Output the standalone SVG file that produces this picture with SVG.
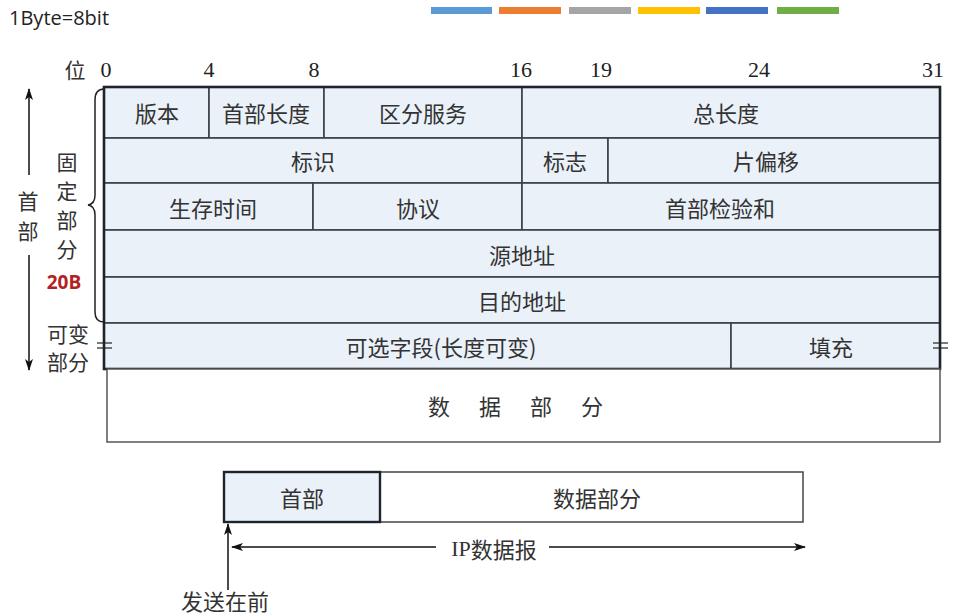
<svg xmlns="http://www.w3.org/2000/svg" width="961" height="616" viewBox="0 0 961 616">
<defs>
<style>
.cjk{font-family:"Noto Sans CJK SC","Noto Sans",sans-serif;font-size:22px;fill:#333;text-anchor:middle;dominant-baseline:central}
.side{font-size:21px}
.num{font-family:"Liberation Serif",serif;font-size:22px;fill:#222;text-anchor:middle}
.cell{fill:#EAF1F9;stroke:#3a4148;stroke-width:1.6}
.ln{stroke:#222;stroke-width:1.5;fill:none}
</style>
<marker id="ah" viewBox="0 0 12 8" refX="11" refY="4" markerWidth="12" markerHeight="8" markerUnits="userSpaceOnUse" orient="auto"><path d="M0,0 L12,4 L0,8 L3,4 Z" fill="#111"/></marker>
</defs>
<rect width="961" height="616" fill="#fff"/>
<text x="9" y="25" font-family="Open Sans,sans-serif" font-size="20" fill="#222">1Byte=8bit</text>
<g id="colorbar">
<rect x="431" y="7" width="61" height="7" fill="#5B9BD5"/>
<rect x="499" y="7" width="62" height="7" fill="#ED7D31"/>
<rect x="569" y="7" width="62" height="7" fill="#A5A5A5"/>
<rect x="638" y="7" width="62" height="7" fill="#FFC000"/>
<rect x="706" y="7" width="62" height="7" fill="#4472C4"/>
<rect x="777" y="7" width="62" height="7" fill="#70AD47"/>
</g>
<g id="bits">
<text class="cjk" x="75" y="69" style="font-size:21px">位</text>
<text class="num" x="106" y="77">0</text>
<text class="num" x="209" y="77">4</text>
<text class="num" x="314" y="77">8</text>
<text class="num" x="521" y="77">16</text>
<text class="num" x="601" y="77">19</text>
<text class="num" x="759" y="77">24</text>
<text class="num" x="933" y="77">31</text>
</g>
<g id="row1">
<rect class="cell" x="104" y="87" width="105" height="51"/><text class="cjk" x="157" y="112">版本</text>
<rect class="cell" x="209" y="87" width="115" height="51"/><text class="cjk" x="266" y="112">首部长度</text>
<rect class="cell" x="324" y="87" width="198" height="51"/><text class="cjk" x="423" y="112">区分服务</text>
<rect class="cell" x="522" y="87" width="418" height="51"/><text class="cjk" x="726" y="112">总长度</text>
</g>
<g id="row2">
<rect class="cell" x="104" y="138" width="418" height="45"/><text class="cjk" x="313" y="160">标识</text>
<rect class="cell" x="522" y="138" width="86" height="45"/><text class="cjk" x="565" y="160">标志</text>
<rect class="cell" x="608" y="138" width="332" height="45"/><text class="cjk" x="766" y="160">片偏移</text>
</g>
<g id="row3">
<rect class="cell" x="104" y="183" width="209" height="47"/><text class="cjk" x="213" y="207">生存时间</text>
<rect class="cell" x="313" y="183" width="209" height="47"/><text class="cjk" x="418" y="207">协议</text>
<rect class="cell" x="522" y="183" width="418" height="47"/><text class="cjk" x="720" y="207">首部检验和</text>
</g>
<g id="row4"><rect class="cell" x="104" y="230" width="836" height="47"/><text class="cjk" x="522" y="254">源地址</text></g>
<g id="row5"><rect class="cell" x="104" y="277" width="836" height="46"/><text class="cjk" x="522" y="300">目的地址</text></g>
<g id="row6">
<rect class="cell" x="104" y="323" width="627" height="46"/><text class="cjk" x="441" y="346">可选字段(长度可变)</text>
<rect class="cell" x="731" y="323" width="209" height="46"/><text class="cjk" x="831" y="346">填充</text>
</g>
<rect x="104" y="87" width="836" height="282" fill="none" stroke="#1d242b" stroke-width="2.6"/>
<g id="datapart">
<rect x="107" y="369" width="833" height="73" fill="#fff" stroke="#555" stroke-width="1.5"/>
<text class="cjk" x="530" y="405" style="letter-spacing:29px">数据部分</text>
</g>
<g id="marks" stroke="#222" stroke-width="1.2">
<line x1="97" y1="343" x2="112" y2="343"/><line x1="97" y1="348" x2="112" y2="348"/>
<line x1="933" y1="343" x2="948" y2="343"/><line x1="933" y1="348" x2="948" y2="348"/>
</g>
<g id="leftlabels">
<path class="ln" d="M104,89 Q95,89 95,100 L95,195 Q95,204 88,205 Q95,206 95,215 L95,312 Q95,322 104,322" stroke-width="1.3"/>
<text class="cjk side" x="67" y="161">固</text>
<text class="cjk side" x="67" y="190">定</text>
<text class="cjk side" x="67" y="219">部</text>
<text class="cjk side" x="67" y="248">分</text>
<text x="64" y="289" font-family="Open Sans,sans-serif" font-weight="bold" font-size="19" fill="#B22222" text-anchor="middle">20B</text>
<text class="cjk side" x="68" y="333">可变</text>
<text class="cjk side" x="68" y="361">部分</text>
<text class="cjk side" x="28" y="200">首</text>
<text class="cjk side" x="28" y="230">部</text>
</g>
<g id="packet">
<rect x="224" y="472" width="579" height="50" fill="#fff" stroke="#444" stroke-width="1.5"/>
<rect x="224" y="472" width="156" height="50" fill="#EAF1F9" stroke="#1d242b" stroke-width="2.4"/>
<text class="cjk" x="302" y="497">首部</text>
<text class="cjk" x="597" y="497">数据部分</text>
<text class="cjk" x="494" y="548"><tspan font-family="Liberation Serif,serif">IP</tspan>数据报</text>
<text class="cjk" x="225" y="600">发送在前</text>
</g>
<g id="connectors" stroke="#111" stroke-width="1.5" fill="none">
<line x1="29" y1="175" x2="29" y2="89" marker-end="url(#ah)"/>
<line x1="29" y1="255" x2="29" y2="370" marker-end="url(#ah)"/>
<line x1="436" y1="547" x2="232" y2="547" marker-end="url(#ah)"/>
<line x1="549" y1="547" x2="805" y2="547" marker-end="url(#ah)"/>
<line x1="228" y1="590" x2="228" y2="524" marker-end="url(#ah)"/>
</g>
</svg>
